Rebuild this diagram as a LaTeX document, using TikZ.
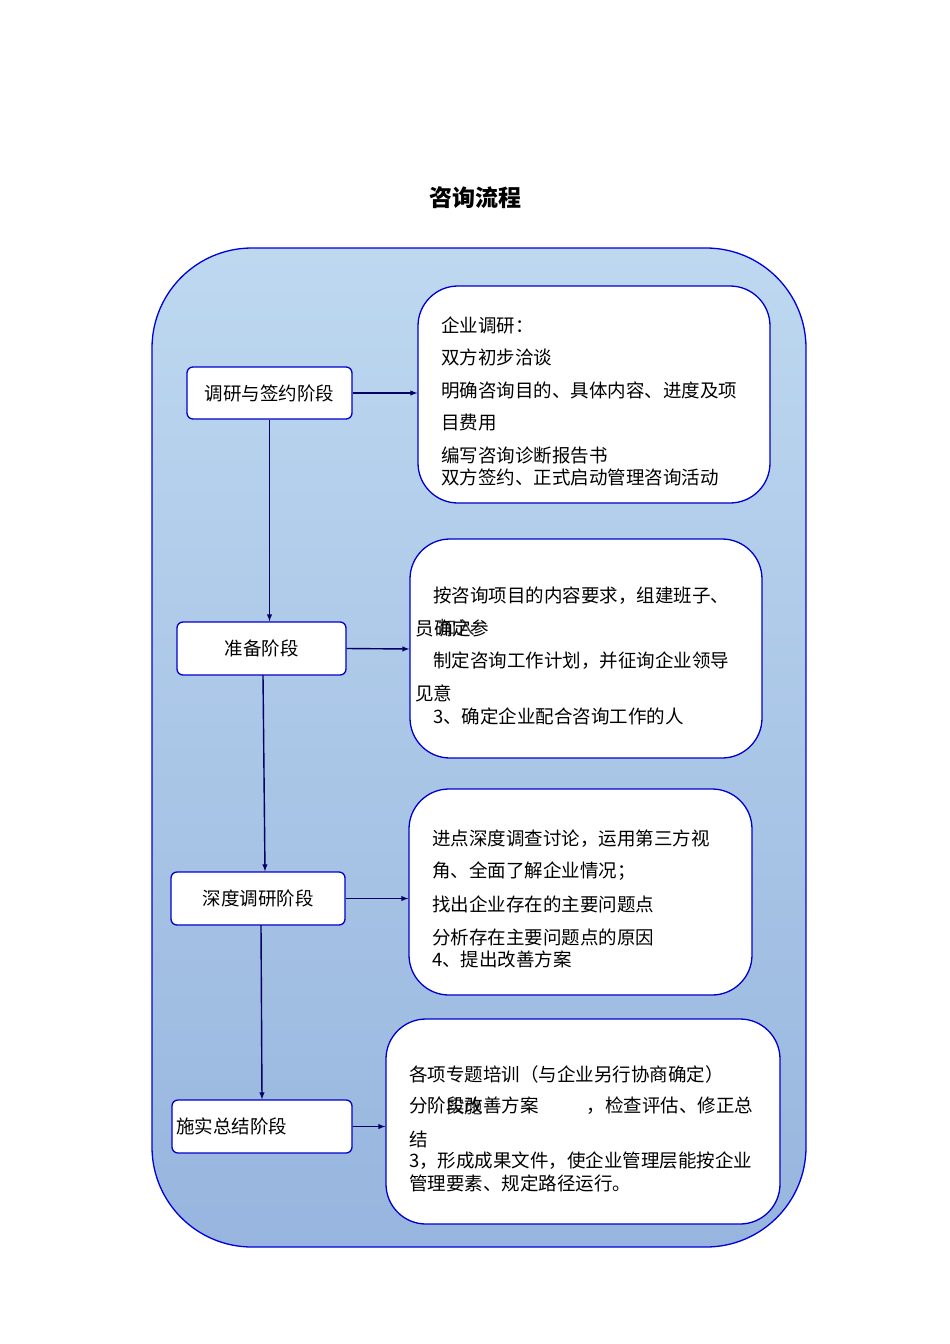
\documentclass[tikz,border=0pt]{standalone}
\usepackage{fontspec}
\newfontfamily\cjk{Noto Sans CJK SC}
\begin{document}
\begin{tikzpicture}[x=1pt,y=-1pt,
  stage/.style={draw=blue!80!black,line width=1.3pt,rounded corners=6pt,fill=white},
  info/.style={draw=blue!80!black,line width=1.3pt,rounded corners=40pt,fill=white},
  ln/.style={anchor=west,inner sep=0pt,font=\cjk\fontsize{18.5}{20}\selectfont},
  arr/.style={-latex,draw=blue!40!black,line width=1.4pt}]
\useasboundingbox (0,0) rectangle (950,1344);
\definecolor{topc}{HTML}{BED8F0}\definecolor{botc}{HTML}{97B5DE}
\node[font=\cjk\bfseries\fontsize{23}{25}\selectfont] (title) at (475,198) {咨询流程};
\draw[draw=blue!85!black,line width=1.3pt,top color=topc,bottom color=botc,rounded corners=100pt] (152,248) rectangle (806,1247);
\node[stage,minimum width=165pt,minimum height=52pt,font=\cjk\fontsize{18.5}{20}\selectfont] (s1) at (269.5,393) {调研与签约阶段};
\node[stage,minimum width=169pt,minimum height=53pt,font=\cjk\fontsize{18.5}{20}\selectfont] (s2) at (261.5,648.5) {准备阶段};
\node[stage,minimum width=174pt,minimum height=53pt,font=\cjk\fontsize{18.5}{20}\selectfont] (s3) at (258,898.5) {深度调研阶段};
\node[stage,minimum width=180pt,minimum height=53pt,font=\cjk\fontsize{18.5}{20}\selectfont,text width=172pt,align=left] (s4) at (262,1126.5) {施实总结阶段};
\node[info,minimum width=352pt,minimum height=217pt] (A) at (594,394.5) {};
\node[info,minimum width=352pt,minimum height=219pt] (B) at (586,648.5) {};
\node[info,minimum width=343pt,minimum height=206pt] (C) at (580.5,892) {};
\node[info,minimum width=394pt,minimum height=205pt] (D) at (583,1121.5) {};
\draw[arr] (s1.south) -- (s2.north -| s1.south);
\draw[arr] (263,675) -- (s3.north -| 265,0);
\draw[arr] (261,925) -- (s4.north -| 262,0);
\draw[arr] (s1.east) -- (A.west |- s1.east);
\draw[arr] (s2.east) -- (B.west |- 0,649);
\draw[arr] (s3.east) -- (C.west |- s3.east);
\draw[arr] (s4.east) -- (D.west |- s4.east);
% A
\node[ln] (a1) at (441,325) {企业调研：};
\node[ln] (a2) at (441,357) {双方初步洽谈};
\node[ln] (a3) at (441,390) {明确咨询目的、具体内容、进度及项};
\node[ln] (a4) at (441,423) {目费用};
\node[ln] (a5) at (441,456) {编写咨询诊断报告书};
\node[ln] (a6) at (441,478) {双方签约、正式启动管理咨询活动};
% B
\node[ln] (b1) at (433,596) {按咨询项目的内容要求，组建班子、};
\node[ln] (b2) at (415,628) {员\phantom{确定}参};
\node[ln] (b2a) at (434,628) {确定};
\node[ln,opacity=0.8] (b2b) at (438,628) {加入};
\node[ln] (b3) at (433,661) {制定咨询工作计划，并征询企业领导};
\node[ln] (b4) at (415,693) {见意};
\node[ln] (b5) at (433,716) {3、确定企业配合咨询工作的人};
% C
\node[ln] (c1) at (432,839) {进点深度调查讨论，运用第三方视};
\node[ln] (c2) at (432,871) {角、全面了解企业情况；};
\node[ln] (c3) at (432,904) {找出企业存在的主要问题点};
\node[ln] (c4) at (432,937) {分析存在主要问题点的原因};
\node[ln] (c5) at (432,959) {4、提出改善方案};
% D
\node[ln] (d1) at (409,1074) {各项专题培训（与企业另行协商确定）};
\node[ln] (d2) at (409,1106) {分阶段改善方案\hspace{2.6em}，检查评估、修正总};
\node[ln,opacity=0.8] (d2a) at (446,1106) {实施};
\node[ln] (d3) at (409,1139) {结};
\node[ln] (d4) at (409,1161) {3，形成成果文件，使企业管理层能按企业};
\node[ln] (d5) at (409,1183) {管理要素、规定路径运行。};
\end{tikzpicture}
\end{document}
